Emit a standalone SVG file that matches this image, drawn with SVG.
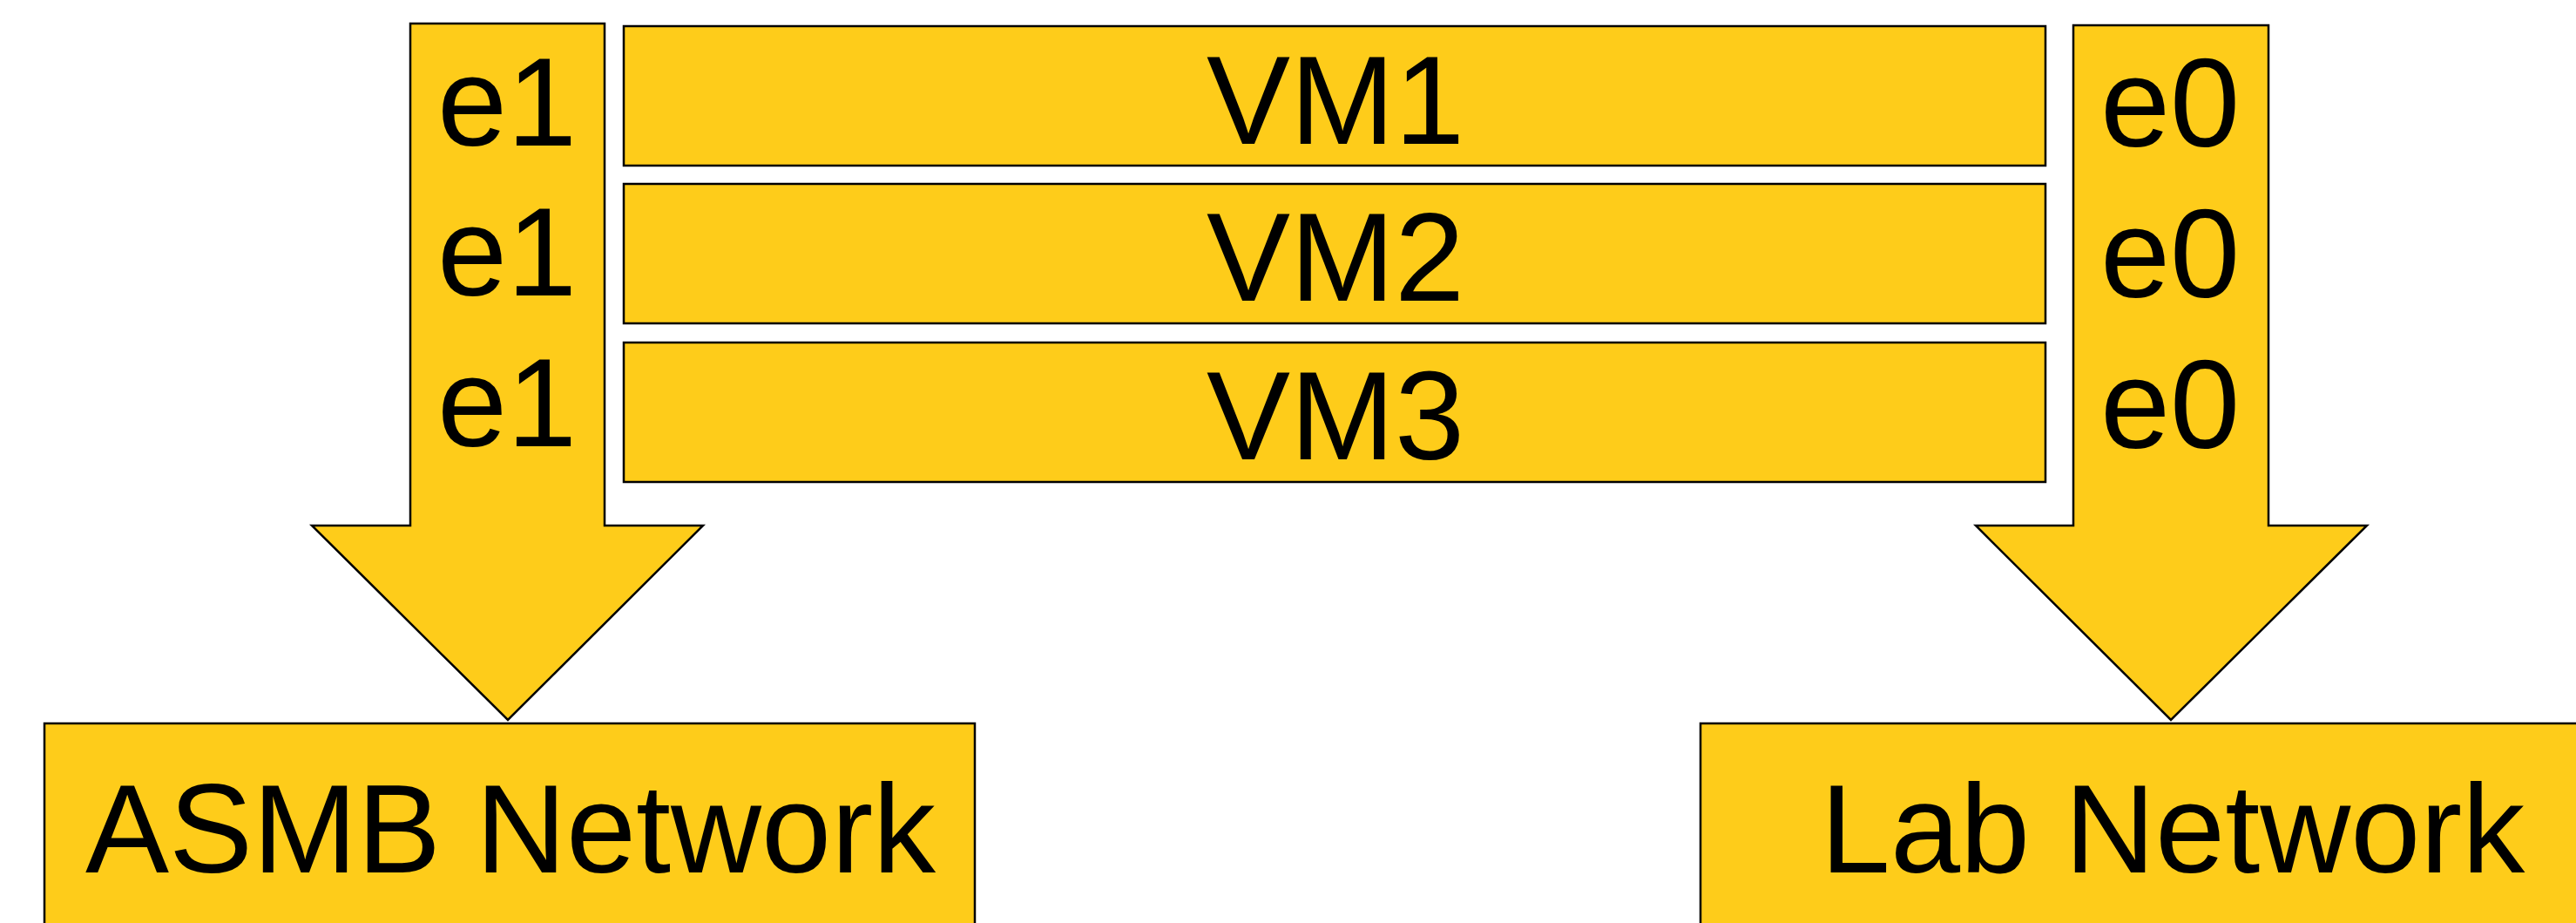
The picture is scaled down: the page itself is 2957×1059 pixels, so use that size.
<svg xmlns="http://www.w3.org/2000/svg" width="2957" height="1059" viewBox="0 0 2957 1059">
<style>
.s{fill:#FECC1A;stroke:#000;stroke-width:2.5;stroke-linejoin:miter}
.t{font-family:"Liberation Sans",Arial,sans-serif;font-size:144px;fill:#000;text-anchor:middle}
</style>
<rect width="2957" height="1059" fill="#fff"/>
<g id="connectors">
<g id="arrow-e1">
<polygon class="s" points="471,27 694,27 694,603 807,603 583,826 358,603 471,603"/>
<text class="t" x="582" y="167">e1</text>
<text class="t" x="582" y="339">e1</text>
<text class="t" x="582" y="512">e1</text>
</g>
<g id="arrow-e0">
<polygon class="s" points="2380,29 2604,29 2604,603 2717,603 2492,826 2268,603 2380,603"/>
<text class="t" x="2491" y="168">e0</text>
<text class="t" x="2491" y="341">e0</text>
<text class="t" x="2491" y="514">e0</text>
</g>
</g>
<g id="vm1"><rect class="s" x="716" y="30" width="1632" height="160"/><text class="t" x="1533" y="165">VM1</text></g>
<g id="vm2"><rect class="s" x="716" y="211" width="1632" height="160"/><text class="t" x="1533" y="345">VM2</text></g>
<g id="vm3"><rect class="s" x="716" y="393" width="1632" height="160"/><text class="t" x="1533" y="527">VM3</text></g>
<g id="asmb"><rect class="s" x="51" y="830" width="1068" height="260"/><text class="t" x="586" y="1001">ASMB Network</text></g>
<g id="lab"><rect class="s" x="1952" y="830" width="1080" height="260"/><text class="t" x="2494" y="1001">Lab Network</text></g>
</svg>
